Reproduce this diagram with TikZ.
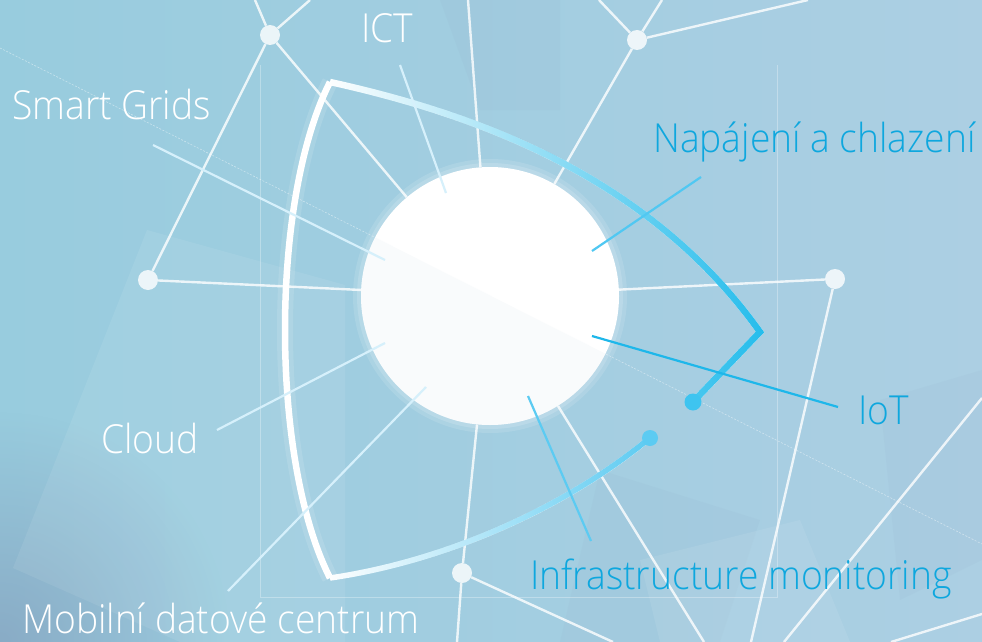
\documentclass[tikz,border=0pt]{standalone}
\usepackage{fontspec}
\setmainfont{Open Sans}[UprightFont=* Light, FakeStretch=0.93]
\usetikzlibrary{fadings}
\definecolor{bgL}{RGB}{152,204,222}
\definecolor{bgR}{RGB}{172,207,227}
\definecolor{bgDark}{RGB}{125,145,178}
\definecolor{cyanA}{RGB}{38,189,236}
\definecolor{cyanB}{RGB}{92,203,242}
\definecolor{cyanT}{RGB}{14,167,222}
\definecolor{paleP}{RGB}{214,240,251}
\definecolor{ptrN}{RGB}{80,200,242}
\definecolor{ptrT}{RGB}{30,183,234}
\definecolor{dotA}{RGB}{62,196,240}
\definecolor{coreShade}{RGB}{236,242,246}
\tikzfading[name=faderight, left color=transparent!100, middle color=transparent!45, right color=transparent!0]
\tikzfading[name=radfade, inner color=transparent!0, outer color=transparent!100]
\begin{document}
\begin{tikzpicture}[x=1pt,y=-1pt,
  net/.style={white, opacity=0.8, line width=2.4pt},
  hub/.style={circle, fill=white, fill opacity=0.8, draw=none, minimum size=20pt, inner sep=0pt},
  ptr/.style={line width=2.2pt},
  lab/.style={font=\fontsize{40}{44}\selectfont, inner sep=0pt, anchor=base west},
  panel/.style={fill=white, opacity=0.08},
  dpanel/.style={fill=bgDark, opacity=0.05},
]
\useasboundingbox (0,0) rectangle (982,642);
% background
\shade[left color=bgL, right color=bgR] (0,0) rectangle (982,642);
\fill[bgDark, path fading=radfade, opacity=0.55] (0,642) circle (230);
\fill[panel] (147,230) -- (345,285) -- (345,642) -- (180,642) -- (13,568) -- cycle;
\fill[dpanel] (440,0) -- (560,0) -- (560,110) -- (480,110) -- cycle;
\fill[dpanel] (600,470) -- (760,520) -- (720,642) -- (560,642) -- cycle;
\fill[dpanel] (880,400) -- (982,370) -- (982,560) -- (900,600) -- cycle;
\fill[panel] (640,560) -- (800,520) -- (850,642) -- (660,642) -- cycle;
\draw[white, opacity=0.45, line width=0.6pt, dash pattern=on 2pt off 1.5pt] (0,48) -- (982,544);
\draw[white, opacity=0.3, line width=0.8pt] (260,65) -- (260,597) -- (777,597) -- (777,65);

% central circle with soft glow
\fill[white, opacity=0.12] (490,296) circle (137);
\fill[white, opacity=0.15] (490,296) circle (133);
\node[circle, fill=white, minimum size=258pt, inner sep=0pt] (core) at (490,296) {};

% network
\node[hub] (A) at (270,35) {};
\node[hub] (B) at (637,40) {};
\node[hub] (C) at (148,280) {};
\node[hub] (D) at (835,279) {};
\node[hub] (E) at (462,573) {};
\coordinate (a1) at (255,0);
\coordinate (a2) at (310,0);
\coordinate (b1) at (599,0);
\coordinate (b2) at (662,0);
\coordinate (b3) at (808,0);
\coordinate (t1) at (468,0);
\coordinate (d1) at (751,642);
\coordinate (e1) at (457,642);
\coordinate (e2) at (613,642);
\coordinate (s1) at (704,642);
\coordinate (r1) at (982,398);
\coordinate (r2) at (784,642);
\coordinate (r3) at (982,614);
\coordinate (r4) at (891,642);
\draw[net] (A) -- (a1);
\draw[net] (A) -- (a2);
\draw[net] (A) -- (C);
\draw[net] (A) -- (core);
\draw[net] (C) -- (core);
\draw[net] (t1) -- (core);
\draw[net] (B) -- (b1);
\draw[net] (B) -- (b2);
\draw[net] (B) -- (b3);
\draw[net] (B) -- (core);
\draw[net] (D) -- (core);
\draw[net] (D) -- (d1);
\draw[net] (E) -- (core);
\draw[net] (E) -- (e1);
\draw[net] (E) -- (e2);
\draw[net] (core) -- (s1);
\draw[net] (r1) -- (r2);
\draw[net] (r3) -- (r4);
\begin{scope}
\clip (490,296) circle (129);
\fill[coreShade, opacity=0.3] (0,48) -- (982,544) -- (982,642) -- (0,642) -- cycle;
\end{scope}

% bracket: corners
\coordinate (k1) at (330,82);
\coordinate (k2) at (330,578);
\coordinate (k3) at (760,332);
\coordinate (k4) at (693,402);
\coordinate (k5) at (650,438);
% glow
\draw[white, opacity=0.12, line width=16pt]
  (k2) .. controls (270,460) and (270,200) .. (k1);
% white base
\draw[white, line width=6.5pt]
  (k2) .. controls (270,460) and (270,200) .. (k1);
\draw[white, line width=6.5pt, line join=miter]
  (k1) .. controls (480,115) and (650,178) .. (k3) -- (k4);
\draw[white, line width=5.5pt]
  (k2) .. controls (440,562) and (560,512) .. (k5);
% cyan overlays
\draw[cyanA, line width=6.5pt, line join=miter, path fading=faderight]
  (k1) .. controls (480,115) and (650,178) .. (k3) -- (k4);
\draw[cyanB, line width=5.5pt, path fading=faderight]
  (k2) .. controls (440,562) and (560,512) .. (k5);
\node[circle, fill=dotA, minimum size=17pt, inner sep=0pt] (dot1) at (k4) {};
\node[circle, fill=cyanB, minimum size=16pt, inner sep=0pt] (dot2) at (k5) {};

% labels
\node[lab, text=white] (ict) at (361,43) {ICT};
\node[lab, text=white] (smart) at (12,119) {Smart Grids};
\node[lab, text=cyanT] (napa) at (653,152) {Napájení a chlazení};
\node[lab, text=cyanT] (iot) at (858,424) {IoT};
\node[lab, text=white] (cloud) at (101,453) {Cloud};
\node[lab, text=white] (mobil) at (22,633) {Mobilní datové centrum};
\node[lab, text=cyanT] (infra) at (530,589) {Infrastructure monitoring};

% pointer lines
\coordinate (pI1) at (400,65);   \coordinate (pI2) at (446,193);
\coordinate (pS1) at (153,145);  \coordinate (pS2) at (385,260);
\coordinate (pN1) at (701,177);  \coordinate (pN2) at (592,251);
\coordinate (pT1) at (838,407);  \coordinate (pT2) at (592,336);
\coordinate (pC1) at (217,430);  \coordinate (pC2) at (385,343);
\coordinate (pM1) at (228,591);  \coordinate (pM2) at (426,387);
\coordinate (pF1) at (591,541);  \coordinate (pF2) at (528,396);
\draw[ptr, paleP] (pI1) -- (pI2);
\draw[ptr, paleP] (pS1) -- (pS2);
\draw[ptr, ptrN] (pN1) -- (pN2);
\draw[ptr, ptrT] (pT1) -- (pT2);
\draw[ptr, paleP] (pC1) -- (pC2);
\draw[ptr, paleP] (pM1) -- (pM2);
\draw[ptr, cyanB] (pF1) -- (pF2);
\end{tikzpicture}
\end{document}
